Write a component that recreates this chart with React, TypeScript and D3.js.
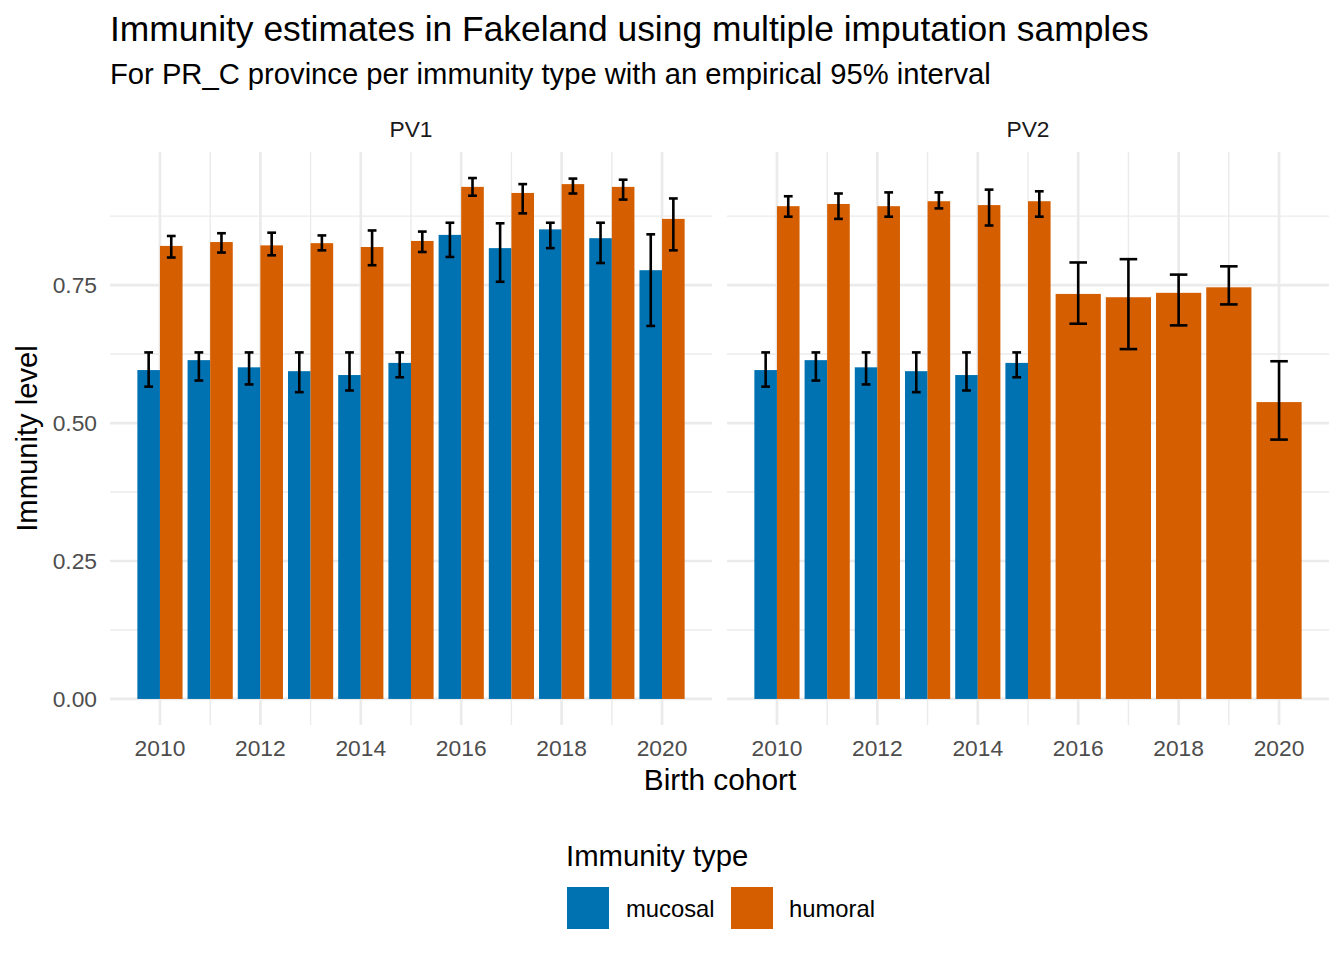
import React from "react";
import * as d3 from "d3";

const years = [2010, 2011, 2012, 2013, 2014, 2015, 2016, 2017, 2018, 2019, 2020];
const panels = ["PV1", "PV2"];
const types = ["mucosal", "humoral"];
const typeColors = ["#0072B2", "#D55E00"];
const yTicks = [0, 0.25, 0.5, 0.75];
const yMinor = [0.125, 0.375, 0.625, 0.875];
const xTicks = [2010, 2012, 2014, 2016, 2018, 2020];

// PV1
const pv1MucosalMean = [0.596, 0.614, 0.601, 0.594, 0.587, 0.609, 0.841, 0.817, 0.851, 0.835, 0.777];
const pv1MucosalLow = [0.566, 0.577, 0.570, 0.556, 0.559, 0.583, 0.801, 0.756, 0.817, 0.790, 0.676];
const pv1MucosalHigh = [0.628, 0.628, 0.628, 0.628, 0.628, 0.628, 0.863, 0.862, 0.863, 0.863, 0.842];
const pv1HumoralMean = [0.821, 0.828, 0.822, 0.826, 0.819, 0.830, 0.928, 0.917, 0.933, 0.928, 0.870];
const pv1HumoralLow = [0.800, 0.809, 0.804, 0.813, 0.786, 0.810, 0.912, 0.880, 0.916, 0.905, 0.813];
const pv1HumoralHigh = [0.839, 0.844, 0.845, 0.840, 0.849, 0.847, 0.944, 0.933, 0.943, 0.941, 0.907];

// PV2 (mucosal only 2010-2015)
const pv2MucosalMean = [0.596, 0.614, 0.601, 0.594, 0.587, 0.609];
const pv2MucosalLow = [0.566, 0.577, 0.570, 0.556, 0.559, 0.583];
const pv2MucosalHigh = [0.628, 0.628, 0.628, 0.628, 0.628, 0.628];
const pv2HumoralMean = [0.893, 0.897, 0.893, 0.902, 0.895, 0.902, 0.734, 0.728, 0.736, 0.746, 0.538];
const pv2HumoralLow = [0.874, 0.870, 0.874, 0.889, 0.858, 0.874, 0.680, 0.634, 0.677, 0.715, 0.470];
const pv2HumoralHigh = [0.911, 0.916, 0.918, 0.918, 0.923, 0.920, 0.791, 0.797, 0.769, 0.784, 0.612];

type Row = { panel: string; type: string; year: number; mean: number; low: number; high: number };

function build(panel: string, type: string, m: number[], l: number[], h: number[]): Row[] {
  return m.map((v, i) => ({ panel, type, year: years[i], mean: v, low: l[i], high: h[i] }));
}

const rows: Row[] = [
  ...build("PV1", "mucosal", pv1MucosalMean, pv1MucosalLow, pv1MucosalHigh),
  ...build("PV1", "humoral", pv1HumoralMean, pv1HumoralLow, pv1HumoralHigh),
  ...build("PV2", "mucosal", pv2MucosalMean, pv2MucosalLow, pv2MucosalHigh),
  ...build("PV2", "humoral", pv2HumoralMean, pv2HumoralLow, pv2HumoralHigh),
];

const FONT = "'Liberation Sans', Arial, Helvetica, sans-serif";
const W = 1344;
const H = 960;
const panelTop = 152;
const panelBottom = 725;
const panelRanges: [number, number][] = [
  [110, 712],
  [727, 1329],
];
const dodgeWidth = 0.9;
const errWidth = 0.35;

export default function App() {
  const yMaxData = d3.max(rows, (r) => r.high) as number;
  const yMinData = 0;
  const span = yMaxData - yMinData;
  const y = d3
    .scaleLinear()
    .domain([yMinData - 0.05 * span, yMaxData + 0.05 * span])
    .range([panelBottom, panelTop]);

  const xMinData = d3.min(years)! - dodgeWidth / 2;
  const xMaxData = d3.max(years)! + dodgeWidth / 2;
  const xSpan = xMaxData - xMinData;
  const xDomain: [number, number] = [xMinData - 0.05 * xSpan, xMaxData + 0.05 * xSpan];

  const color = d3.scaleOrdinal<string, string>().domain(types).range(typeColors);

  return (
    <div style={{ position: "absolute", left: 0, top: 0 }}>
      <svg width={W} height={H} style={{ display: "block", background: "#fff" }} fontFamily={FONT}>
        <text x={110} y={41} fontSize={35.4} fill="#000">
          Immunity estimates in Fakeland using multiple imputation samples
        </text>
        <text x={110} y={84} fontSize={29.2} fill="#000">
          For PR_C province per immunity type with an empirical 95% interval
        </text>

        {panels.map((p, pi) => {
          const x = d3.scaleLinear().domain(xDomain).range(panelRanges[pi]);
          const pr = rows.filter((r) => r.panel === p);
          const [x0, x1] = panelRanges[pi];
          return (
            <g key={p}>
              {/* grid */}
              {yMinor.map((t) => (
                <line key={"ym" + t} x1={x0} x2={x1} y1={y(t)} y2={y(t)} stroke="#EBEBEB" strokeWidth={1.4} />
              ))}
              {years
                .filter((yr) => !xTicks.includes(yr))
                .map((t) => (
                  <line key={"xm" + t} x1={x(t)} x2={x(t)} y1={panelTop} y2={panelBottom} stroke="#EBEBEB" strokeWidth={1.4} />
                ))}
              {yTicks.map((t) => (
                <line key={"yM" + t} x1={x0} x2={x1} y1={y(t)} y2={y(t)} stroke="#EBEBEB" strokeWidth={2.7} />
              ))}
              {xTicks.map((t) => (
                <line key={"xM" + t} x1={x(t)} x2={x(t)} y1={panelTop} y2={panelBottom} stroke="#EBEBEB" strokeWidth={2.7} />
              ))}

              {/* bars */}
              {pr.map((r) => {
                const group = pr.filter((q) => q.year === r.year);
                const n = group.length;
                const idx = types.filter((t) => group.some((g) => g.type === t)).indexOf(r.type);
                const bw = dodgeWidth / n;
                const left = r.year - dodgeWidth / 2 + idx * bw;
                return (
                  <rect
                    key={"b" + r.type + r.year}
                    x={x(left)}
                    width={x(left + bw) - x(left)}
                    y={y(r.mean)}
                    height={y(0) - y(r.mean)}
                    fill={color(r.type)}
                  />
                );
              })}

              {/* error bars */}
              {pr.map((r) => {
                const group = pr.filter((q) => q.year === r.year);
                const n = group.length;
                const idx = types.filter((t) => group.some((g) => g.type === t)).indexOf(r.type);
                const bw = dodgeWidth / n;
                const cx = r.year - dodgeWidth / 2 + idx * bw + bw / 2;
                const ew = errWidth / n;
                return (
                  <g key={"e" + r.type + r.year} stroke="#000" strokeWidth={2.6} fill="none">
                    <line x1={x(cx)} x2={x(cx)} y1={y(r.low)} y2={y(r.high)} />
                    <line x1={x(cx - ew / 2)} x2={x(cx + ew / 2)} y1={y(r.low)} y2={y(r.low)} />
                    <line x1={x(cx - ew / 2)} x2={x(cx + ew / 2)} y1={y(r.high)} y2={y(r.high)} />
                  </g>
                );
              })}

              {/* strip */}
              <text x={(x0 + x1) / 2} y={137} fontSize={22.8} fill="#1A1A1A" textAnchor="middle">
                {p}
              </text>

              {/* x ticks */}
              {xTicks.map((t) => (
                <text key={"xt" + t} x={x(t)} y={756} fontSize={22.8} fill="#4D4D4D" textAnchor="middle">
                  {t}
                </text>
              ))}
            </g>
          );
        })}

        {/* y ticks */}
        {yTicks.map((t) => (
          <text key={"yt" + t} x={97} y={y(t)} dy="0.36em" fontSize={22.8} fill="#4D4D4D" textAnchor="end">
            {d3.format(".2f")(t)}
          </text>
        ))}

        {/* axis titles */}
        <text x={720} y={790} fontSize={29.8} fill="#000" textAnchor="middle">
          Birth cohort
        </text>
        <text
          transform={`translate(37, ${(panelTop + panelBottom) / 2}) rotate(-90)`}
          fontSize={29.2}
          fill="#000"
          textAnchor="middle"
        >
          Immunity level
        </text>

        {/* legend */}
        <text x={566} y={866} fontSize={29.3} fill="#000">
          Immunity type
        </text>
        {types.map((t, i) => {
          const kx = [567, 731][i];
          const lx = [626, 789][i];
          return (
            <g key={"lg" + t}>
              <rect x={kx} y={887} width={42} height={42} fill={color(t)} />
              <text x={lx} y={908} dy="0.36em" fontSize={23.8} fill="#000">
                {t}
              </text>
            </g>
          );
        })}
      </svg>
    </div>
  );
}
